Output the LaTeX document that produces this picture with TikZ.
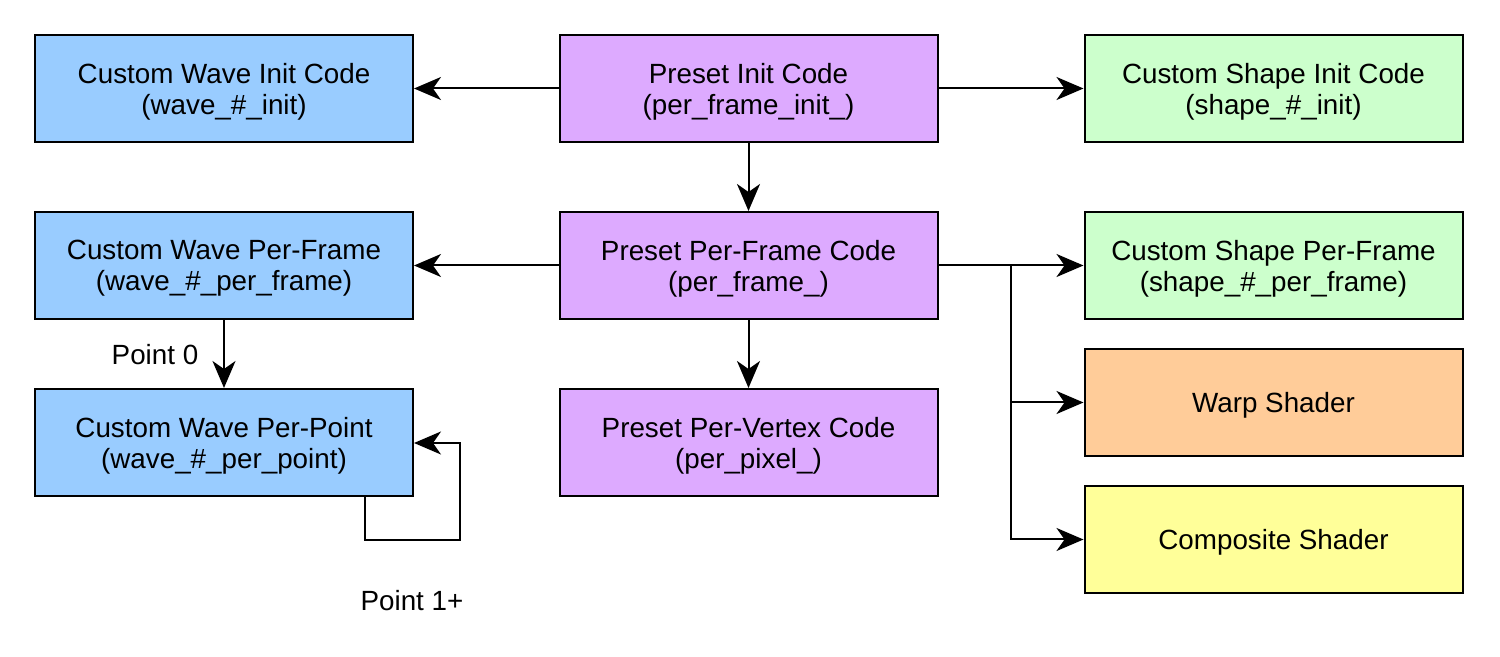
\documentclass[tikz,border=0pt]{standalone}
\usepackage{fontspec}
\setmainfont{Liberation Sans}
\usetikzlibrary{arrows.meta}
\definecolor{cblue}{HTML}{99CCFF}
\definecolor{cpurple}{HTML}{DDAAFF}
\definecolor{cgreen}{HTML}{CCFFCC}
\definecolor{corange}{HTML}{FFCC99}
\definecolor{cyellow}{HTML}{FFFF99}
\tikzset{
  box/.style={draw=black, line width=1pt, rectangle, minimum width=189pt, minimum height=53.5pt,
    inner sep=0pt, align=center, text depth=0pt, font=\fontsize{13.9}{15.5}\selectfont},
  arr/.style={draw=black, line width=1pt, -{Stealth[length=13.5pt, width=11.5pt, inset=4pt]}},
  lbl/.style={font=\fontsize{13.9}{15.5}\selectfont, inner sep=0pt}
}
\begin{document}
\begin{tikzpicture}[x=0.5pt, y=-0.5pt]
\useasboundingbox (0,0) rectangle (1500,657);
\node[box, fill=cblue] (winit) at (224,88.5) {Custom Wave Init Code\\(wave\_\#\_init)};
\node[box, fill=cpurple] (pinit) at (748.5,88.5) {Preset Init Code\\(per\_frame\_init\_)};
\node[box, fill=cgreen] (sinit) at (1273.5,88.5) {Custom Shape Init Code\\(shape\_\#\_init)};
\node[box, fill=cblue] (wframe) at (224,265.5) {Custom Wave Per-Frame\\(wave\_\#\_per\_frame)};
\node[box, fill=cpurple] (pframe) at (748.5,265.5) {Preset Per-Frame Code\\(per\_frame\_)};
\node[box, fill=cgreen] (sframe) at (1273.5,265.5) {Custom Shape Per-Frame\\(shape\_\#\_per\_frame)};
\node[box, fill=cblue] (wpoint) at (224,442.5) {Custom Wave Per-Point\\(wave\_\#\_per\_point)};
\node[box, fill=cpurple] (pvert) at (748.5,442.5) {Preset Per-Vertex Code\\(per\_pixel\_)};
\node[box, fill=corange] (warp) at (1273.5,402.5) {Warp Shader};
\node[box, fill=cyellow] (comp) at (1273.5,539.5) {Composite Shader};
\node[lbl] (p0) at (155,355) {Point 0};
\node[lbl] (p1) at (412,601) {Point 1+};
\coordinate (j) at (1011,265.5);
\coordinate (l1) at (365,540);
\coordinate (l2) at (460,443);
\draw[arr] (pinit.west) -- (winit.east);
\draw[arr] (pinit.east) -- (sinit.west);
\draw[arr] (pinit.south) -- (pframe.north);
\draw[arr] (pframe.west) -- (wframe.east);
\draw[arr] (pframe.east) -- (sframe.west);
\draw[arr] (j) |- (warp.west);
\draw[arr] (j) |- (comp.west);
\draw[arr] (pframe.south) -- (pvert.north);
\draw[arr] (wframe.south) -- (wpoint.north);
\draw[arr] (wpoint.south -| l1) -- (l1) -- (l1 -| l2) -- (l2) -- (l2 -| wpoint.east);
\end{tikzpicture}
\end{document}
